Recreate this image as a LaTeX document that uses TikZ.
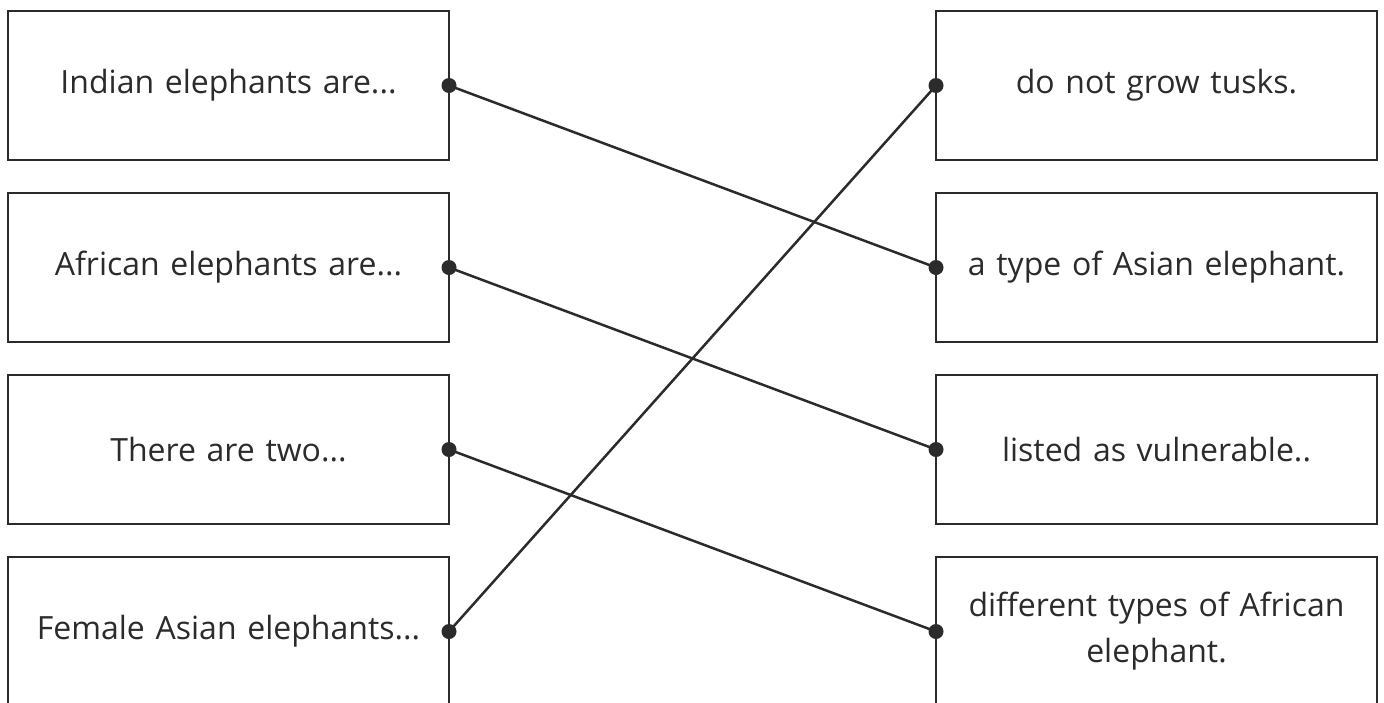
\documentclass[tikz,border=0pt]{standalone}
\usepackage{fontspec}
\setmainfont{Open Sans}
\usetikzlibrary{positioning}

\definecolor{inkgrey}{HTML}{2B2B2B}

\tikzset{
  card/.style={draw=inkgrey, line width=2.5pt, outer sep=0pt, inner sep=0pt,
    minimum width=441pt, minimum height=149pt, text width=425pt,
    align=center, text=inkgrey, font=\fontsize{32}{46}\selectfont},
  pin/.style={circle, fill=inkgrey, inner sep=0pt, minimum size=15pt},
  link/.style={draw=inkgrey, line width=2.5pt}
}

\begin{document}
\begin{tikzpicture}
    \useasboundingbox (0pt,0pt) rectangle (1384pt,-702pt);
    % left column
    \node[card] (indian) at (228.5pt,-85.5pt) {Indian elephants are...};
    \node[card, below=33pt of indian] (african) {African elephants are...};
    \node[card, below=33pt of african] (two) {There are two...};
    \node[card, below=33pt of two] (female) {Female Asian elephants...};
    % right column
    \node[card] (tusks) at (1156.5pt,-85.5pt) {do not grow tusks.};
    \node[card, below=33pt of tusks] (asian) {a type of Asian elephant.};
    \node[card, below=33pt of asian] (listed) {listed as vulnerable..};
    \node[card, below=33pt of listed] (types) {different types of African\\ elephant.};
    % pins
    \foreach \card in {indian, african, two, female}
        \node[pin] (\card-pin) at (\card.east) {};
    \foreach \card in {tusks, asian, listed, types}
        \node[pin] (\card-pin) at (\card.west) {};
    % answers
    \draw[link] (indian-pin.center) -- (asian-pin.center);
    \draw[link] (african-pin.center) -- (listed-pin.center);
    \draw[link] (two-pin.center) -- (types-pin.center);
    \draw[link] (female-pin.center) -- (tusks-pin.center);
\end{tikzpicture}
\end{document}
